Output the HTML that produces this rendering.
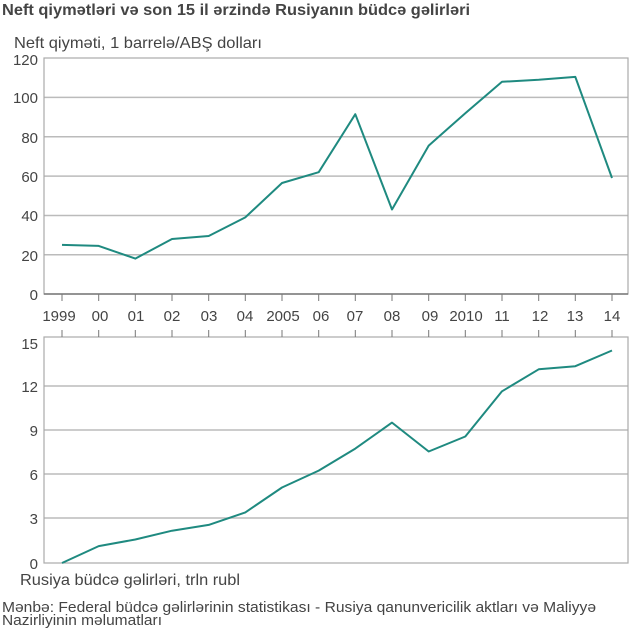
<!DOCTYPE html>
<html><head><meta charset="utf-8"><style>
body{margin:0;background:#fff;width:640px;height:630px;overflow:hidden}
text{font-family:"Liberation Sans",sans-serif;fill:#444}
</style></head><body>
<svg width="640" height="630" xmlns="http://www.w3.org/2000/svg">
<text x="2" y="15" font-size="15.5" font-weight="bold" fill="#333" textLength="468" lengthAdjust="spacingAndGlyphs">Neft qiymətləri və son 15 il ərzində Rusiyanın büdcə gəlirləri</text>
<text x="14" y="48" font-size="16" textLength="248" lengthAdjust="spacingAndGlyphs">Neft qiymәti, 1 barrelә/ABŞ dolları</text>
<g stroke="#bbb" stroke-width="1.5">
<line x1="44" y1="97.4" x2="628" y2="97.4"/><line x1="44" y1="136.8" x2="628" y2="136.8"/><line x1="44" y1="176.1" x2="628" y2="176.1"/><line x1="44" y1="215.5" x2="628" y2="215.5"/><line x1="44" y1="254.8" x2="628" y2="254.8"/>
<line x1="44" y1="386" x2="628" y2="386"/><line x1="44" y1="430" x2="628" y2="430"/><line x1="44" y1="474" x2="628" y2="474"/><line x1="44" y1="518" x2="628" y2="518"/>
</g>
<rect x="44" y="58" width="584" height="236" fill="none" stroke="#aaa" stroke-width="1.2"/>
<line x1="44" y1="294" x2="628" y2="294" stroke="#777" stroke-width="1.5"/>
<rect x="44" y="337" width="584" height="226" fill="none" stroke="#aaa" stroke-width="1.2"/>
<g stroke="#777" stroke-width="1">
<path d="M62 294v7M98.7 294v7M135.3 294v7M172 294v7M208.7 294v7M245.3 294v7M282 294v7M318.7 294v7M355.3 294v7M392 294v7M428.7 294v7M465.3 294v7M502 294v7M538.7 294v7M575.3 294v7M612 294v7"/>
<path d="M62 337v-7M98.7 337v-7M135.3 337v-7M172 337v-7M208.7 337v-7M245.3 337v-7M282 337v-7M318.7 337v-7M355.3 337v-7M392 337v-7M428.7 337v-7M465.3 337v-7M502 337v-7M538.7 337v-7M575.3 337v-7M612 337v-7"/>
</g>
<g font-size="15" text-anchor="end">
<text x="38" y="65">120</text><text x="38" y="103">100</text><text x="38" y="143">80</text><text x="38" y="182">60</text><text x="38" y="221">40</text><text x="38" y="261">20</text><text x="38" y="300">0</text>
<text x="38" y="349">15</text><text x="38" y="392">12</text><text x="38" y="436">9</text><text x="38" y="480">6</text><text x="38" y="524">3</text><text x="38" y="569">0</text>
</g>
<g font-size="15" text-anchor="middle">
<text x="59" y="321">1999</text><text x="100" y="321">00</text><text x="136" y="321">01</text><text x="172" y="321">02</text><text x="209" y="321">03</text><text x="245" y="321">04</text><text x="283" y="321">2005</text><text x="321" y="321">06</text><text x="355" y="321">07</text><text x="392" y="321">08</text><text x="430" y="321">09</text><text x="466" y="321">2010</text><text x="502" y="321">11</text><text x="540" y="321">12</text><text x="575" y="321">13</text><text x="612" y="321">14</text>
</g>
<polyline fill="none" stroke="#1f8a80" stroke-width="2" stroke-linejoin="round" points="62,244.9 98.7,245.9 135.3,258.6 172,239 208.7,236 245.3,217.4 282,183 318.7,172.2 355.3,114.2 392,209.5 428.7,145.6 465.3,113.2 502,81.8 538.7,79.8 575.3,76.9 612,178"/>
<polyline fill="none" stroke="#1f8a80" stroke-width="2" stroke-linejoin="round" points="62,563 98.7,546.1 135.3,539.5 172,530.7 208.7,524.9 245.3,512.4 282,487.5 318.7,470.6 355.3,448.6 392,422.6 428.7,451.5 465.3,436.5 502,391.3 538.7,369.3 575.3,366.2 612,350.5"/>
<text x="20" y="585" font-size="16" textLength="220" lengthAdjust="spacingAndGlyphs">Rusiya büdcә gәlirlәri, trln rubl</text>
<text x="2" y="612" font-size="15" fill="#555" textLength="594" lengthAdjust="spacingAndGlyphs">Mәnbә: Federal büdcә gәlirlәrinin statistikası - Rusiya qanunvericilik aktları vә Maliyyә</text>
<text x="2" y="625" font-size="15" fill="#555" textLength="160" lengthAdjust="spacingAndGlyphs">Nazirliyinin mәlumatları</text>
</svg>
</body></html>
